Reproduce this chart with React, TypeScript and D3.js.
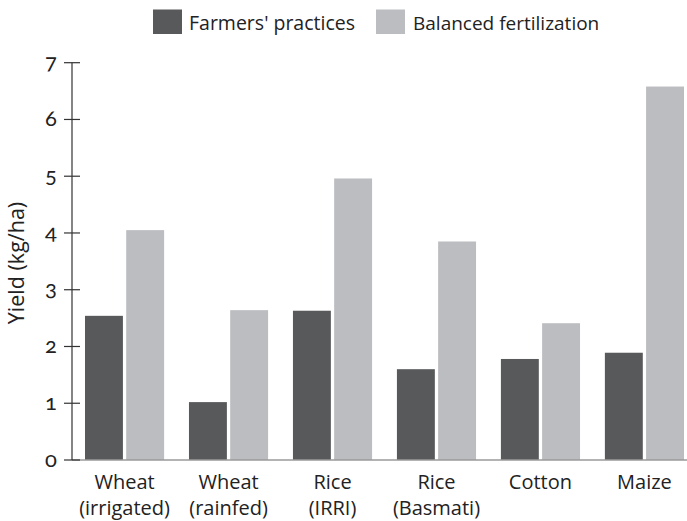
import React from "react";
import * as d3 from "d3";

const categories = [
  ["Wheat", "(irrigated)"],
  ["Wheat", "(rainfed)"],
  ["Rice", "(IRRI)"],
  ["Rice", "(Basmati)"],
  ["Cotton", ""],
  ["Maize", ""],
];
const seriesNames = ["Farmers' practices", "Balanced fertilization"];
const farmers = [2.54, 1.02, 2.63, 1.6, 1.78, 1.89];
const balanced = [4.05, 2.64, 4.96, 3.85, 2.41, 6.58];
const yTicks = [0, 1, 2, 3, 4, 5, 6, 7];
const yLabel = "Yield (kg/ha)";

const colors = ["#58595b", "#bcbdc1"];
const font = "'Open Sans', sans-serif";

export default function App() {
  const W = 687;
  const H = 521;
  const keys = categories.map((c) => c.join(" "));
  const x = d3
    .scaleBand<string>()
    .domain(keys)
    .range([72, 697])
    .paddingInner(0.239)
    .paddingOuter(0.125);
  const xs = d3
    .scaleBand<string>()
    .domain(seriesNames)
    .range([0, x.bandwidth()])
    .paddingInner(0.08);
  const y = d3.scaleLinear().domain([0, 7]).range([460, 62.7]);
  const series = [farmers, balanced];

  return (
    <svg
      width={W}
      height={H}
      style={{ position: "absolute", left: 0, top: 0, background: "#fff" }}
      fontFamily={font}
    >
      {keys.map((k, i) => (
        <g key={k} transform={`translate(${x(k)},0)`}>
          {seriesNames.map((s, j) => (
            <rect
              key={s}
              x={xs(s)}
              y={y(series[j][i])}
              width={xs.bandwidth()}
              height={y(0) - y(series[j][i])}
              fill={colors[j]}
            />
          ))}
        </g>
      ))}
      <line x1={72} x2={687} y1={y(0)} y2={y(0)} stroke="#9a9a9a" strokeWidth={1.3} />
      <line x1={72} x2={72} y1={y(7)} y2={y(0)} stroke="#333" strokeWidth={1.2} />
      {yTicks.map((t) => (
        <g key={t}>
          <line x1={64} x2={80} y1={y(t)} y2={y(t)} stroke="#333" strokeWidth={1.2} />
          <text
            x={57}
            y={y(t)}
            dy="0.3em"
            textAnchor="end"
            fontSize={22}
            fill="#222"
            style={{
              fontFamily: "Lato, sans-serif",
              fontVariantNumeric: "oldstyle-nums",
              fontFeatureSettings: "'onum' 1",
            }}
          >
            {t}
          </text>
        </g>
      ))}
      <text
        transform={`translate(24,${263}) rotate(-90)`}
        textAnchor="middle"
        fontSize={21.5}
        fill="#222"
      >
        {yLabel}
      </text>
      {categories.map((c, i) => {
        const cx = (x(keys[i]) as number) + x.bandwidth() / 2;
        return (
          <text key={i} x={cx} y={489} textAnchor="middle" fontSize={20} fill="#222">
            <tspan x={cx}>{c[0]}</tspan>
            {c[1] && (
              <tspan x={cx} dy={26}>
                {c[1]}
              </tspan>
            )}
          </text>
        );
      })}
      <rect x={153} y={9.5} width={29} height={24.5} fill={colors[0]} />
      <text x={189} y={30} fontSize={19.5} fill="#222">
        {seriesNames[0]}
      </text>
      <rect x={376} y={9.5} width={29} height={24.5} fill={colors[1]} />
      <text x={413} y={30} fontSize={19} fill="#222">
        {seriesNames[1]}
      </text>
    </svg>
  );
}
